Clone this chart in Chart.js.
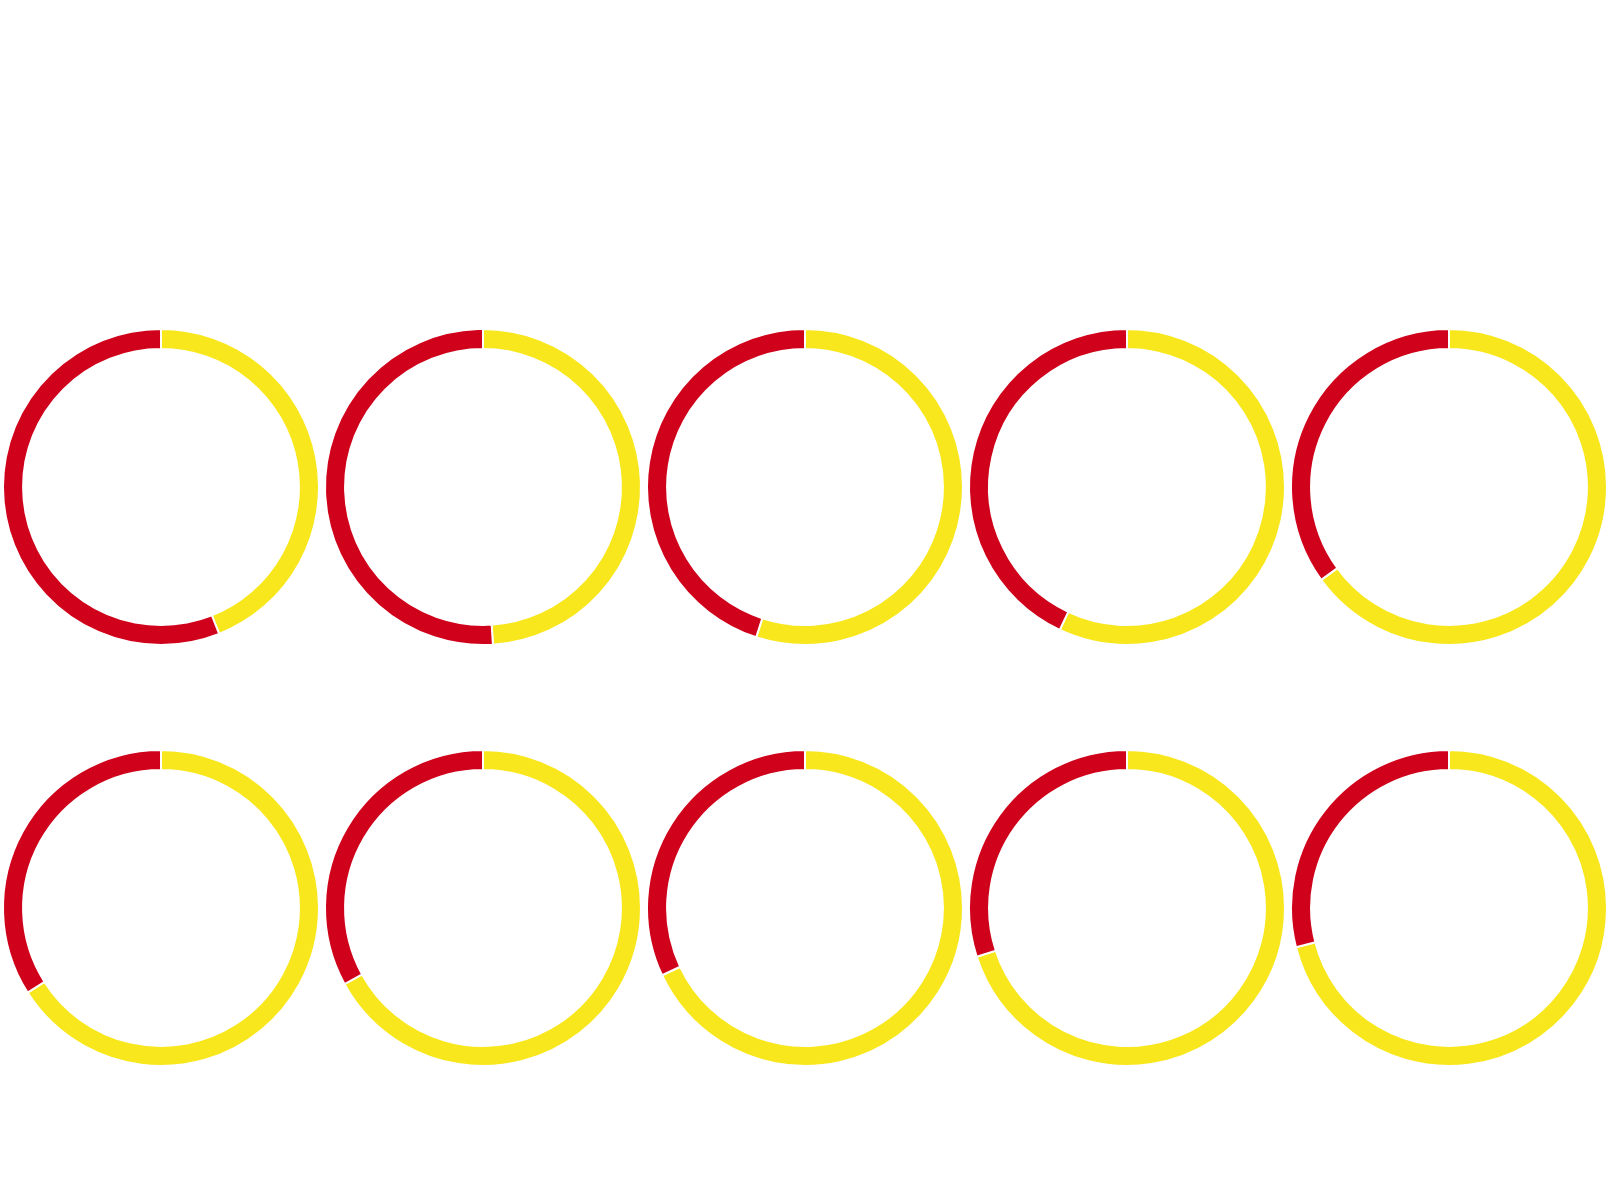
<!DOCTYPE html>
<html>
<head>
<meta charset="utf-8">
<script src="https://cdn.jsdelivr.net/npm/chart.js@4/dist/chart.umd.min.js"></script>
<style>
  html, body { margin: 0; padding: 0; background: #fff; }
  #grid {
    position: absolute; left: 0; top: 326px;
    width: 1610px;
    display: grid;
    grid-template-columns: repeat(5, 322px);
    grid-auto-rows: 322px;
    row-gap: 99px;
  }
  .cell { position: relative; width: 322px; height: 322px; }
</style>
</head>
<body>
<div id="grid"></div>
<script>
// two slices per ring: yellow share first (clockwise from 12 o'clock), red remainder
const categories = ['Sí', 'No'];
const yellowShare = [44, 49, 55, 57, 65, 66, 67, 68, 70, 71];
const redShare = [56, 51, 45, 43, 35, 34, 33, 32, 30, 29];
const colors = ['#F8E71C', '#D0021B'];

const grid = document.getElementById('grid');

yellowShare.forEach((y, i) => {
    const cell = document.createElement('div');
    cell.className = 'cell';
    const canvas = document.createElement('canvas');
    cell.appendChild(canvas);
    grid.appendChild(cell);

    new Chart(canvas.getContext('2d'), {
        type: 'doughnut',
        data: {
            labels: categories,
            datasets: [{
                data: [y, redShare[i]],
                backgroundColor: colors,
                borderColor: '#ffffff',
                borderWidth: 2
            }]
        },
        options: {
            responsive: true,
            maintainAspectRatio: false,
            animation: false,
            cutout: '87.3%',
            layout: { padding: 2 },
            plugins: {
                legend: { display: false },
                tooltip: { enabled: false }
            }
        }
    });
});
</script>
</body>
</html>
